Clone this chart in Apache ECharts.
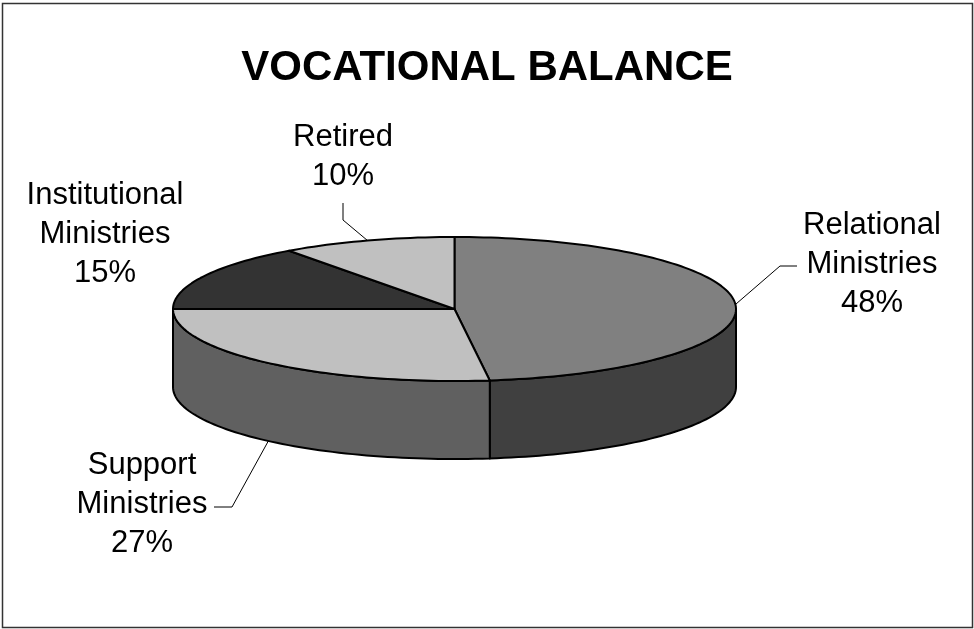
<!DOCTYPE html>
<html>
<head>
    <meta charset="utf-8">
    <title>Vocational Balance</title>
    <script type="text/javascript" src="https://cdn.jsdelivr.net/npm/echarts@6/dist/echarts.min.js"></script>
    <style type="text/css">
        html, body { margin: 0; padding: 0; background: #fff; }
        #main { width: 974px; height: 629px; }
    </style>
</head>
<body>
    <div id="main"></div>
    <script type="text/javascript">
        // data
        var categories = ['Relational\nMinistries', 'Support\nMinistries', 'Institutional\nMinistries', 'Retired'];
        var shares = [48, 27, 15, 10];

        // styles / layout
        var topColors = ['#808080', '#c0c0c0', '#333333', '#c0c0c0'];
        var sideColors = ['#404040', '#606060', '#1a1a1a', '#606060'];
        var pie = { cx: 454.5, cy: 309, rx: 281.5, ry: 72, depth: 78 };
        var labelCenters = [[872, 264], [142, 504], [105, 234], [343, 157]];
        var leaderBends = [[[780, 266], [797, 266]], [[232, 507], [214, 507]], null, [[343, 220], [343, 203]]];
        var leaderOnWall = [false, true, false, false];

        var total = shares.reduce(function (a, b) { return a + b; }, 0);
        var starts = [];
        var acc = 0;
        shares.forEach(function (v) { starts.push(acc / total * 360); acc += v; });

        function pt(deg, drop) {
            var r = deg * Math.PI / 180;
            return [pie.cx + pie.rx * Math.sin(r), pie.cy - pie.ry * Math.cos(r) + (drop || 0)];
        }
        function arc(a0, a1, drop) {
            var pts = [];
            var n = Math.max(2, Math.ceil(Math.abs(a1 - a0) / 1.5));
            for (var i = 0; i <= n; i++) pts.push(pt(a0 + (a1 - a0) * i / n, drop));
            return pts;
        }

        function renderItem(params, api) {
            var i = params.dataIndex;
            var a0 = starts[i];
            var a1 = a0 + shares[i] / total * 360;
            var children = [];

            // front wall: the part of the rim between 90 and 270 deg
            var s = Math.max(a0, 90), e = Math.min(a1, 270);
            if (e > s) {
                var wall = arc(s, e, 0).concat(arc(e, s, pie.depth));
                children.push({
                    type: 'polygon', z2: 1,
                    shape: { points: wall },
                    style: { fill: sideColors[i], stroke: '#000', lineWidth: 2, lineJoin: 'round' }
                });
            }

            // top face
            var top = [[pie.cx, pie.cy]].concat(arc(a0, a1, 0));
            children.push({
                type: 'polygon', z2: 2,
                shape: { points: top },
                style: { fill: topColors[i], stroke: '#000', lineWidth: 2, lineJoin: 'round' }
            });

            // label + leader
            var mid = (a0 + a1) / 2;
            if (leaderBends[i]) {
                var anchor = pt(mid, leaderOnWall[i] ? pie.depth : 0);
                children.push({
                    type: 'polyline', z2: 3,
                    shape: { points: [anchor].concat(leaderBends[i]) },
                    style: { stroke: '#000', lineWidth: 1, fill: null }
                });
            }
            var pct = Math.round(shares[i] / total * 100) + '%';
            children.push({
                type: 'text', z2: 4,
                x: labelCenters[i][0], y: labelCenters[i][1],
                style: {
                    text: categories[i] + '\n' + pct,
                    fill: '#000',
                    fontSize: 31,
                    fontFamily: 'Liberation Sans, Arial, sans-serif',
                    lineHeight: 39,
                    align: 'center',
                    verticalAlign: 'middle'
                }
            });
            return { type: 'group', children: children };
        }

        var myChart = echarts.init(document.getElementById('main'), null, { renderer: 'canvas' });
        var option = {
            backgroundColor: '#fff',
            animation: false,
            title: {
                text: 'VOCATIONAL BALANCE',
                left: 'center',
                top: 42,
                textStyle: {
                    color: '#000',
                    fontSize: 42,
                    fontWeight: 'bold',
                    fontFamily: 'Liberation Sans, Arial, sans-serif'
                }
            },
            graphic: [{
                type: 'rect',
                shape: { x: 2.5, y: 3.5, width: 970, height: 624 },
                style: { fill: null, stroke: '#333', lineWidth: 1.5 },
                z: -1
            }],
            series: [{
                type: 'custom',
                coordinateSystem: 'none',
                silent: true,
                renderItem: renderItem,
                data: shares.map(function (v, i) { return { name: categories[i], value: v }; })
            }]
        };
        myChart.setOption(option);
    </script>
</body>
</html>
